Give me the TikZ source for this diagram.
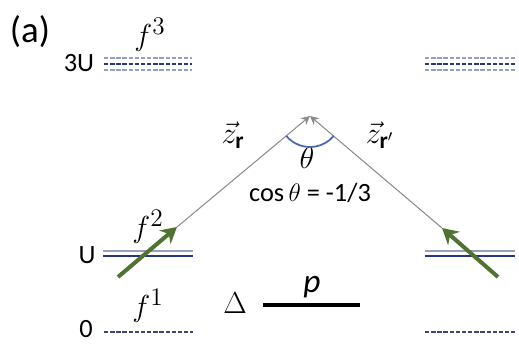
\documentclass[tikz,border=0pt]{standalone}
\usepackage{amsmath}
\usepackage{bm}
\usepackage{fontspec}
\setmainfont{Carlito}
\usepackage{xcolor}
\usepackage{tikz}
\usetikzlibrary{arrows.meta}
\definecolor{levelblue}{RGB}{40,55,125}
\definecolor{lightlevel}{RGB}{150,160,195}
\definecolor{spingreen}{RGB}{80,115,50}
\definecolor{arcblue}{RGB}{68,104,180}

\begin{document}
\begin{tikzpicture}[
    lab/.style={font=\fontsize{15}{18}\selectfont, inner sep=0pt},
    biglab/.style={font=\fontsize{19}{22}\selectfont, inner sep=0pt},
    bond/.style={draw=gray!90, line width=0.6pt, -{Stealth[length=5pt,width=5pt]}},
    spin/.style={draw=spingreen, line width=2.3pt, -{Stealth[length=9pt,width=10pt]}},
    dotlev/.style={line width=1.2pt, dash pattern=on 2.5pt off 1pt},
    ulev/.style={line width=1pt},
    zerolev/.style={draw=levelblue!80!gray, line width=0.8pt, dash pattern=on 2.5pt off 1pt}
]
    \useasboundingbox (0,0) rectangle (10.38,6.86);

    % level end points
    \coordinate (tl1) at (2.08,5.58);  \coordinate (tl2) at (3.84,5.58);
    \coordinate (tr1) at (8.50,5.58);  \coordinate (tr2) at (10.30,5.58);
    \coordinate (ul1) at (2.06,1.79);  \coordinate (ul2) at (3.86,1.79);
    \coordinate (ur1) at (8.50,1.79);  \coordinate (ur2) at (10.30,1.79);
    \coordinate (zl1) at (2.08,0.22);  \coordinate (zl2) at (3.86,0.22);
    \coordinate (zr1) at (8.50,0.22);  \coordinate (zr2) at (10.30,0.22);

    % spins and bonds
    \coordinate (apex) at (6.20,4.54);
    \coordinate (tipL) at (3.54,2.32);
    \coordinate (tailL) at (2.36,1.32);
    \coordinate (tipR) at (8.84,2.30);
    \coordinate (tailR) at (9.96,1.32);
    \coordinate (pa) at (5.26,0.76);
    \coordinate (pb) at (7.20,0.76);

    \node[lab, font=\fontsize{21}{24}\selectfont] (panel) at (0.60,6.22) {(a)};
    \node[lab] (l3U) at (1.58,5.60) {3U};
    \node[lab] (lU) at (1.74,1.76) {U};
    \node[lab] (l0) at (1.72,0.27) {0};
    \node[biglab] (f3) at (3.00,6.16) {$f^{3}$};
    \node[biglab] (f2) at (2.96,2.32) {$f^{2}$};
    \node[biglab] (f1) at (2.96,0.74) {$f^{1}$};
    \node[biglab] (delta) at (4.70,0.80) {$\Delta$};
    \node[biglab] (plab) at (6.24,1.12) {\textit{p}};
    \node[biglab] (zr) at (4.66,4.16) {$\vec{z}_{\mathbf{r}}$};
    \node[biglab] (zrp) at (7.60,4.16) {$\vec{z}_{\mathbf{r}'}$};
    \node[biglab] (theta) at (6.14,3.70) {$\theta$};
    \node[lab] (cosv) at (6.20,3.00) {cos\,$\theta$ = -1/3};

    % 3U levels
    \foreach \a/\b in {tl1/tl2, tr1/tr2}{
        \draw[dotlev, lightlevel] ([yshift=3.3pt]\a) -- ([yshift=3.3pt]\b);
        \draw[dotlev, levelblue] (\a) -- (\b);
        \draw[dotlev, lightlevel] ([yshift=-3.3pt]\a) -- ([yshift=-3.3pt]\b);
    }
    % U levels
    \foreach \a/\b in {ul1/ul2, ur1/ur2}{
        \draw[ulev, lightlevel] ([yshift=1.4pt]\a) -- ([yshift=1.4pt]\b);
        \draw[ulev, levelblue] ([yshift=-1.4pt]\a) -- ([yshift=-1.4pt]\b);
    }
    % 0 levels
    \draw[zerolev] (zl1) -- (zl2);
    \draw[zerolev] (zr1) -- (zr2);

    \draw[bond] (tipL) -- (apex);
    \draw[bond] (tipR) -- (apex);
    \draw[spin] (tailL) -- (tipL);
    \draw[spin] (tailR) -- (tipR);
    \draw[draw=arcblue, line width=1pt] ([shift={(220:0.62)}]apex) arc[start angle=220, end angle=320, radius=0.62];
    \draw[line width=2.8pt] (pa) -- (pb);
\end{tikzpicture}
\end{document}
